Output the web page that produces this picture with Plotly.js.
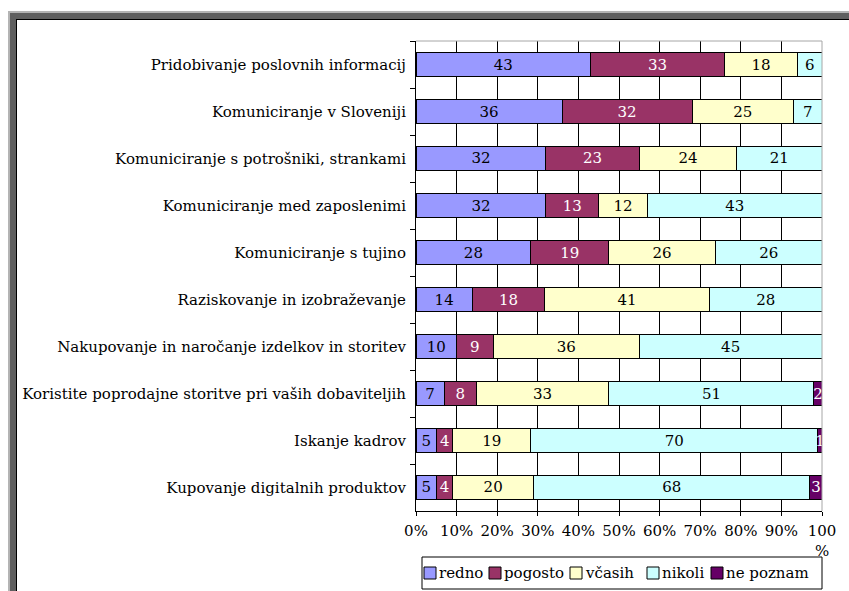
<!DOCTYPE html>
<html>
<head>
<meta charset="utf-8">
<script src="https://cdn.plot.ly/plotly-3.0.1.min.js"></script>
<style>
  html, body { margin: 0; padding: 0; background: #ffffff; }
  body { width: 849px; height: 591px; position: relative; overflow: hidden; }
  .frame-outer { position: absolute; left: 8px; top: 11px; width: 900px; height: 700px;
                 border-left: 2px solid #b4b4b4; border-top: 2px solid #b4b4b4; }
  .frame-mid { border-left: 6px solid #5f5f5f; border-top: 6px solid #5f5f5f; height: 100%; }
  .frame-inner { border-left: 1px solid #000; border-top: 1px solid #000; height: 100%; }
  #chart { position: absolute; left: 0; top: 0; width: 849px; height: 591px; }
</style>
</head>
<body>
<div class="frame-outer"><div class="frame-mid"><div class="frame-inner"></div></div></div>
<div id="chart"></div>
<script>
// Activities, listed top to bottom
const categories = [
  "Pridobivanje poslovnih informacij",
  "Komuniciranje v Sloveniji",
  "Komuniciranje s potrošniki, strankami",
  "Komuniciranje med zaposlenimi",
  "Komuniciranje s tujino",
  "Raziskovanje in izobraževanje",
  "Nakupovanje in naročanje izdelkov in storitev",
  "Koristite poprodajne storitve pri vaših dobaviteljih",
  "Iskanje kadrov",
  "Kupovanje digitalnih produktov"
];

// Share of answers (%) per frequency
const redno    = [43, 36, 32, 32, 28, 14, 10, 7, 5, 5];
const pogosto  = [33, 32, 23, 13, 19, 18, 9, 8, 4, 4];
const vcasih   = [18, 25, 24, 12, 26, 41, 36, 33, 19, 20];
const nikoli   = [6, 7, 21, 43, 26, 28, 45, 51, 70, 68];
const nePoznam = [null, null, null, null, null, null, null, 2, 1, 3];

const seriesNames = ["redno", "pogosto", "včasih", "nikoli", "ne poznam"];
const seriesValues = [redno, pogosto, vcasih, nikoli, nePoznam];
const seriesColors = ["#9999ff", "#993366", "#ffffcc", "#ccffff", "#660066"];
const textColors = ["#000000", "#ffffff", "#000000", "#000000", "#ffffff"];

const xTickVals = [0, 10, 20, 30, 40, 50, 60, 70, 80, 90, 100];
const xTickText = ["0%", "10%", "20%", "30%", "40%", "50%", "60%", "70%", "80%", "90%", "100<br>%"];

const serif = "DejaVu Serif";
const fs = 15;

// Plot area geometry (pixels) used to place the hand-drawn legend
const W = 849, H = 591;
const M = { l: 416, r: 27, t: 41, b: 80 };
const pw = W - M.l - M.r, ph = H - M.t - M.b;
const px = x => (x - M.l) / pw;
const py = y => (H - M.b - y) / ph;

const traces = seriesNames.map((name, i) => ({
  type: "bar",
  orientation: "h",
  name: name,
  y: categories,
  x: seriesValues[i],
  text: seriesValues[i].map(v => (v == null ? "" : String(v))),
  textposition: "inside",
  insidetextanchor: "middle",
  textangle: 0,
  constraintext: "none",
  insidetextfont: { family: serif, size: fs, color: textColors[i] },
  marker: { color: seriesColors[i], line: { color: "#000000", width: 1 } },
  hoverinfo: "name+x+y",
  showlegend: false
}));

// Legend: boxed row of swatches and labels under the axis
const legendSwatchLeft = [424, 489, 570, 647, 711];
const legendTop = 557, legendBottom = 589, legendMid = 573, sw = 12;
const shapes = [
  { type: "line", xref: "paper", yref: "paper", x0: 0, x1: 1, y0: 1, y1: 1,
    line: { color: "#a6a6a6", width: 1 } },
  { type: "line", xref: "paper", yref: "paper", x0: 1, x1: 1, y0: 0, y1: 1,
    line: { color: "#a6a6a6", width: 1 } },
  { type: "rect", xref: "paper", yref: "paper",
    x0: px(422), x1: px(822), y0: py(legendBottom), y1: py(legendTop),
    fillcolor: "rgba(0,0,0,0)", line: { color: "#000000", width: 1 } }
];
const annotations = [];
seriesNames.forEach((name, i) => {
  const x0 = legendSwatchLeft[i];
  shapes.push({ type: "rect", xref: "paper", yref: "paper",
    x0: px(x0), x1: px(x0 + sw), y0: py(legendMid + sw / 2), y1: py(legendMid - sw / 2),
    fillcolor: seriesColors[i], line: { color: "#000000", width: 1 } });
  annotations.push({ xref: "paper", yref: "paper", x: px(x0 + sw + 1), y: py(legendMid),
    xanchor: "left", yanchor: "middle", showarrow: false, text: name,
    font: { family: serif, size: fs, color: "#000000" } });
});

const layout = {
  width: W,
  height: H,
  margin: M,
  paper_bgcolor: "rgba(0,0,0,0)",
  plot_bgcolor: "#ffffff",
  barmode: "stack",
  barnorm: "percent",
  bargap: 0.47,
  showlegend: false,
  uniformtext: { mode: "show", minsize: fs },
  font: { family: serif, size: fs, color: "#000000" },
  xaxis: {
    range: [0, 100],
    tickvals: xTickVals,
    ticktext: xTickText,
    ticks: "outside",
    ticklen: 4,
    tickcolor: "#000000",
    showgrid: true,
    gridcolor: "#000000",
    gridwidth: 1,
    showline: true,
    linecolor: "#000000",
    linewidth: 1,
    zeroline: false,
    fixedrange: true,
    ticklabelstandoff: 2,
    tickfont: { family: serif, size: fs, color: "#000000" }
  },
  yaxis: {
    type: "category",
    autorange: "reversed",
    tickson: "boundaries",
    ticks: "outside",
    ticklen: 5,
    tickcolor: "#000000",
    ticklabelstandoff: 6,
    showgrid: false,
    showline: true,
    linecolor: "#000000",
    linewidth: 1,
    zeroline: false,
    fixedrange: true,
    tickfont: { family: serif, size: fs, color: "#000000" }
  },
  shapes: shapes,
  annotations: annotations
};

Plotly.newPlot("chart", traces, layout, { staticPlot: true, displayModeBar: false });
</script>
</body>
</html>
